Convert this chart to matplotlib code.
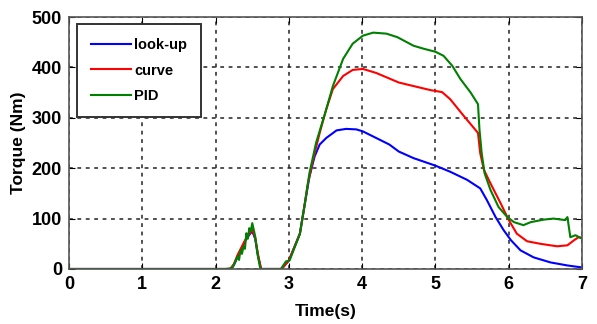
import numpy as np
import matplotlib
matplotlib.use("Agg")
import matplotlib.pyplot as plt

# Values (time in s, torque in Nm)
t_lookup = [0, 2.2, 2.25, 2.32, 2.4, 2.46, 2.5, 2.54, 2.58, 2.62, 2.9, 3.0, 3.15,
            3.21, 3.28, 3.35, 3.42, 3.51, 3.65, 3.78, 3.92, 4.01, 4.19, 4.37, 4.5,
            4.7, 5.0, 5.2, 5.43, 5.61, 5.7, 5.82, 5.93, 6.03, 6.16, 6.34, 6.57,
            6.8, 7.0]
torque_lookup = [0, 0, 8, 30, 55, 68, 75, 60, 25, 0, 0, 17, 70,
                 123, 183, 223, 247, 260, 275, 278, 277, 273, 260, 247, 233,
                 220, 205, 193, 177, 160, 137, 103, 77, 57, 37, 23, 13,
                 7, 3]

t_curve = [0, 2.2, 2.25, 2.3, 2.36, 2.42, 2.46, 2.5, 2.54, 2.58, 2.62, 2.9, 3.0,
           3.15, 3.21, 3.26, 3.33, 3.42, 3.51, 3.6, 3.74, 3.87, 4.01, 4.19, 4.37,
           4.5, 4.7, 4.93, 5.09, 5.2, 5.39, 5.58, 5.61, 5.66, 5.75, 5.89, 6.0,
           6.11, 6.25, 6.43, 6.66, 6.8, 6.89, 6.95, 7.0]
torque_curve = [0, 0, 10, 28, 45, 62, 70, 78, 62, 28, 0, 0, 17,
                70, 123, 170, 217, 270, 317, 357, 383, 395, 397, 389, 378,
                370, 363, 355, 351, 337, 303, 270, 230, 197, 170, 130, 97,
                70, 55, 50, 45, 47, 57, 63, 62]

t_pid = [0, 2.14, 2.23, 2.27, 2.3, 2.32, 2.34, 2.36, 2.38, 2.4, 2.42, 2.44,
         2.46, 2.48, 2.5, 2.54, 2.57, 2.61, 2.89, 2.96, 3.01, 3.15, 3.21,
         3.28, 3.37, 3.51, 3.6, 3.74, 3.87, 4.01, 4.15, 4.33, 4.48, 4.7,
         4.84, 5.0, 5.11, 5.23, 5.34, 5.48, 5.58, 5.6, 5.63, 5.67, 5.75,
         5.86, 5.98, 6.07, 6.2, 6.3, 6.48, 6.61, 6.77, 6.8, 6.84, 6.91, 7.0]
torque_pid = [0, 0, 2, 15, 25, 18, 38, 30, 45, 40, 71, 60,
              81, 75, 91, 65, 31, 0, 0, 15, 17, 70, 123,
              190, 250, 317, 363, 417, 447, 463, 469, 467, 460, 443,
              437, 431, 423, 403, 377, 350, 327, 277, 230, 190, 157,
              123, 103, 93, 87, 93, 98, 100, 97, 103, 63, 67, 60]

labels = ["look-up", "curve", "PID"]
colors = ["#0000ff", "#ff0000", "#008000"]

plt.rcParams["font.family"] = ["Liberation Sans", "DejaVu Sans"]
plt.rcParams["font.weight"] = "bold"

fig = plt.figure(figsize=(5.97, 3.24), dpi=100)
ax = fig.add_axes([0.1156, 0.1698, 0.8594, 0.7777])

ax.plot(t_lookup, torque_lookup, color=colors[0], lw=1.5, label=labels[0])
ax.plot(t_curve, torque_curve, color=colors[1], lw=1.5, label=labels[1])
ax.plot(t_pid, torque_pid, color=colors[2], lw=1.5, label=labels[2])

ax.set_xlim(0, 7)
ax.set_ylim(0, 500)
ax.set_xticks(np.arange(0, 8, 1))
ax.set_yticks(np.arange(0, 600, 100))
ax.grid(True, color="#222222", linestyle=(0, (2.5, 3)), linewidth=1.1)
ax.tick_params(direction="in", top=True, right=True, labelsize=13, length=4, pad=5)
for lab in ax.get_xticklabels() + ax.get_yticklabels():
    lab.set_fontweight("bold")
for sp in ax.spines.values():
    sp.set_color("#555555")
    sp.set_linewidth(1.2)

ax.set_xlabel("Time(s)", fontsize=12.5, fontweight="bold", labelpad=8)
ax.set_ylabel("Torque (Nm)", fontsize=12.5, fontweight="bold", labelpad=4)

leg = ax.legend(loc="upper left", bbox_to_anchor=(0.015, 0.972), fancybox=False,
                framealpha=1, edgecolor="#333333", prop={"size": 10.5, "weight": "bold"},
                handlelength=2.8, borderpad=0.95, labelspacing=0.8, handletextpad=0.2,
                borderaxespad=0)
leg.get_frame().set_linewidth(1.4)

plt.savefig("out.png", dpi=100)
